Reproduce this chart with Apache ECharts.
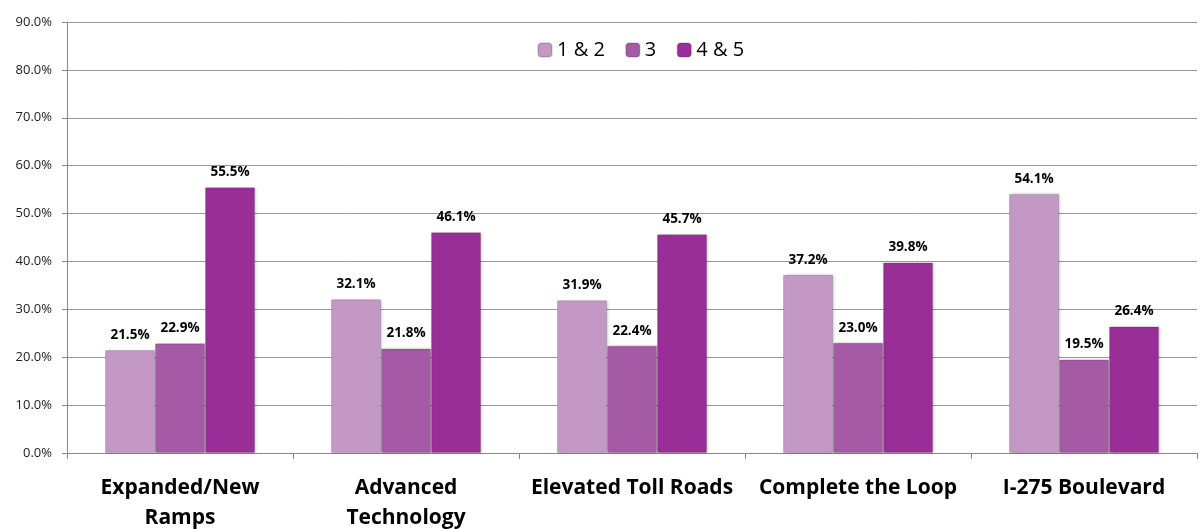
<!DOCTYPE html>
<html>
<head>
<meta charset="utf-8">
<script src="https://cdn.jsdelivr.net/npm/echarts@6/dist/echarts.min.js"></script>
<style>
html, body { margin: 0; padding: 0; background: #fff; }
#chartmain { width: 1200px; height: 529px; }
</style>
</head>
<body>
<div id="chartmain"></div>
<script>
var categories = ['Expanded/New\nRamps', 'Advanced\nTechnology', 'Elevated Toll Roads', 'Complete the Loop', 'I-275 Boulevard'];
var seriesNames = ['1 & 2', '3', '4 & 5'];
var vals12 = [21.5, 32.1, 31.9, 37.2, 54.1];
var vals3 = [22.9, 21.8, 22.4, 23.0, 19.5];
var vals45 = [55.5, 46.1, 45.7, 39.8, 26.4];
var colors = ['#C498C5', '#A45AA5', '#992E97'];

function makeSeries(name, data, color) {
	return {
		name: name,
		type: 'bar',
		data: data,
		barWidth: 50,
		barGap: '0%',
		itemStyle: {
			color: color,
			borderColor: 'rgba(0,0,0,0.12)',
			borderWidth: 1,
			shadowColor: 'rgba(0,0,0,0.25)',
			shadowBlur: 3,
			shadowOffsetX: 1
		},
		label: {
			show: true,
			position: 'top',
			distance: 8,
			formatter: function(p) { return p.value.toFixed(1) + '%'; },
			fontFamily: 'Open Sans',
			fontWeight: 'bold',
			fontSize: 13.5,
			color: '#000'
		}
	};
}

var option = {
	animation: false,
	legend: {
		top: 35,
		left: 532,
		itemWidth: 14,
		itemHeight: 14,
		itemGap: 20,
		textStyle: { fontFamily: 'Open Sans', fontSize: 20, color: '#000' },
		data: seriesNames
	},
	grid: { left: 67, right: 3, top: 22, bottom: 76, containLabel: false, outerBoundsMode: 'none' },
	xAxis: {
		type: 'category',
		data: categories,
		axisLine: { lineStyle: { color: '#888' } },
		axisTick: { show: true, length: 6, lineStyle: { color: '#888' } },
		axisLabel: {
			interval: 0,
			margin: 20,
			fontFamily: 'Open Sans',
			fontWeight: 'bold',
			fontSize: 21,
			lineHeight: 30,
			color: '#000'
		}
	},
	yAxis: {
		type: 'value',
		min: 0,
		max: 90,
		interval: 10,
		axisLine: { show: true, lineStyle: { color: '#888' } },
		axisTick: { show: true, length: 5, lineStyle: { color: '#888' } },
		splitLine: { lineStyle: { color: '#999' } },
		axisLabel: {
			margin: 15,
			formatter: function(v) { return v.toFixed(1) + '%'; },
			fontFamily: 'Open Sans',
			fontSize: 13,
			color: '#222'
		}
	},
	series: [
		makeSeries(seriesNames[0], vals12, colors[0]),
		makeSeries(seriesNames[1], vals3, colors[1]),
		makeSeries(seriesNames[2], vals45, colors[2])
	]
};

var myChart = echarts.init(document.getElementById('chartmain'));
myChart.setOption(option);
</script>
</body>
</html>
